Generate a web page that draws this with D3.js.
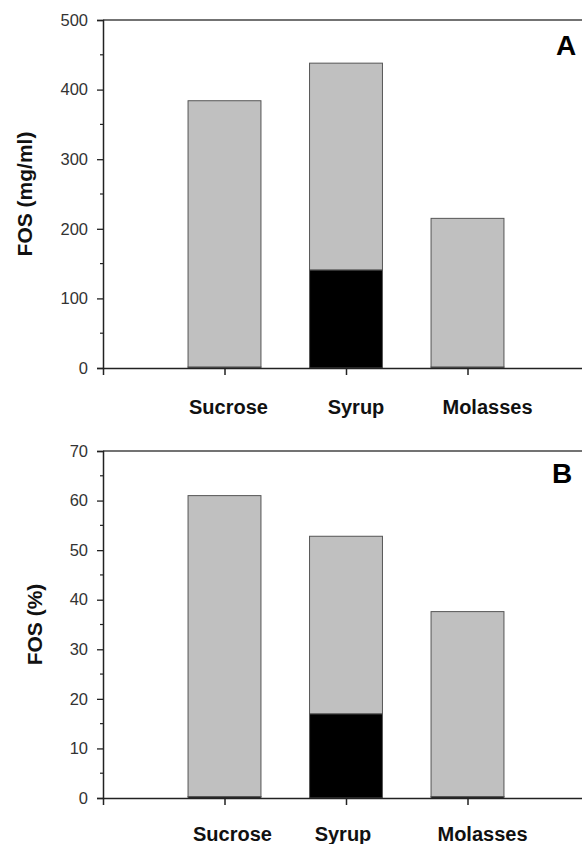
<!DOCTYPE html>
<html>
<head>
<meta charset="utf-8">
<script src="https://cdn.jsdelivr.net/npm/d3@7"></script>
<style>
  body { margin: 0; background: #fff; }
  svg { display: block; }
  text { font-family: "Liberation Sans", Arial, sans-serif; }
</style>
</head>
<body>
<div id="chart"></div>
<script>
const categories = ["Sucrose", "Syrup", "Molasses"];

// panel A, FOS (mg/ml)
const darkA = [1.5, 141, 1.5];
const lightA = [382.5, 297, 213.5];
const ticksA = [0, 100, 200, 300, 400, 500];

// panel B, FOS (%)
const darkB = [0.3, 17, 0.3];
const lightB = [60.7, 35.8, 37.3];
const ticksB = [0, 10, 20, 30, 40, 50, 60, 70];

const width = 582, height = 844;

const svg = d3.select("#chart").append("svg")
    .attr("width", width)
    .attr("height", height);

function drawPanel(opts) {
    const rows = categories.map((c, i) => ({ cat: c, dark: opts.dark[i], light: opts.light[i] }));
    const stacked = d3.stack().keys(["dark", "light"])(rows);

    // axis spans 4 category steps, categories sit at 1..3
    const x = d3.scaleLinear().domain([0, 4]).range([103, 589]);
    const step = x(1) - x(0);
    const barW = step * 0.6;
    const y = d3.scaleLinear().domain([0, opts.max]).range([opts.bottom, opts.top]);

    const g = svg.append("g");

    // top frame line
    g.append("line")
        .attr("x1", x(0)).attr("x2", x(4))
        .attr("y1", y(opts.max)).attr("y2", y(opts.max))
        .attr("stroke", "#444").attr("stroke-width", 1.3);

    g.append("g").selectAll("g")
        .data(stacked)
        .enter().append("g")
        .attr("fill", d => d.key === "dark" ? "#000" : "#c0c0c0")
        .selectAll("rect")
        .data(d => d)
        .enter().append("rect")
        .attr("x", (d, i) => x(i + 1) - barW / 2)
        .attr("width", barW)
        .attr("y", d => y(d[1]))
        .attr("height", d => y(d[0]) - y(d[1]))
        .attr("stroke", "#555")
        .attr("stroke-width", 1);

    // y axis, major ticks
    const yAxis = g.append("g")
        .attr("transform", `translate(${x(0)},0)`)
        .call(d3.axisLeft(y).tickValues(opts.ticks).tickSize(6).tickPadding(9));
    yAxis.select(".domain").attr("stroke", "#222").attr("stroke-width", 1.5);
    yAxis.selectAll(".tick line").attr("stroke", "#222").attr("stroke-width", 1.3);
    yAxis.selectAll("text")
        .attr("font-size", 16.5)
        .attr("fill", "#333")
        .attr("font-family", "'Liberation Sans', Arial, sans-serif");

    // minor ticks
    const minor = d3.range(opts.ticks.length - 1).map(i => (opts.ticks[i] + opts.ticks[i + 1]) / 2);
    g.append("g").selectAll("line")
        .data(minor)
        .enter().append("line")
        .attr("x1", x(0) - 3).attr("x2", x(0))
        .attr("y1", d => y(d)).attr("y2", d => y(d))
        .attr("stroke", "#222").attr("stroke-width", 1.2);

    // x axis
    const xAxis = g.append("g")
        .attr("transform", `translate(0,${y(0)})`)
        .call(d3.axisBottom(x).tickValues([1, 2, 3]).tickSize(7).tickFormat(""));
    xAxis.select(".domain").attr("stroke", "#222").attr("stroke-width", 1.5);
    xAxis.selectAll(".tick line").attr("stroke", "#222").attr("stroke-width", 1.5);

    g.append("g").selectAll("text")
        .data(categories)
        .enter().append("text")
        .attr("x", (d, i) => x(i + 1) + opts.labelShift[i])
        .attr("y", opts.labelY)
        .attr("text-anchor", "middle")
        .attr("font-size", 20)
        .attr("font-weight", "bold")
        .attr("fill", "#111")
        .text(d => d);

    // y label
    g.append("text")
        .attr("transform", `translate(${opts.yLabelX},${(opts.top + opts.bottom) / 2}) rotate(-90)`)
        .attr("text-anchor", "middle")
        .attr("font-size", 21)
        .attr("font-weight", "bold")
        .attr("fill", "#111")
        .text(opts.yLabel);

    // panel letter
    g.append("text")
        .attr("x", opts.letterX)
        .attr("y", opts.letterY)
        .attr("text-anchor", "middle")
        .attr("font-size", 28)
        .attr("font-weight", "bold")
        .attr("fill", "#000")
        .text(opts.letter);
}

drawPanel({
    dark: darkA, light: lightA, ticks: ticksA, max: 500,
    top: 20, bottom: 368,
    labelY: 414, labelShift: [4, 10, 20],
    yLabel: "FOS (mg/ml)", yLabelX: 32,
    letter: "A", letterX: 566, letterY: 55
});

drawPanel({
    dark: darkB, light: lightB, ticks: ticksB, max: 70,
    top: 451, bottom: 798,
    labelY: 841, labelShift: [8, -3, 15],
    yLabel: "FOS (%)", yLabelX: 42,
    letter: "B", letterX: 562, letterY: 483
});
</script>
</body>
</html>
